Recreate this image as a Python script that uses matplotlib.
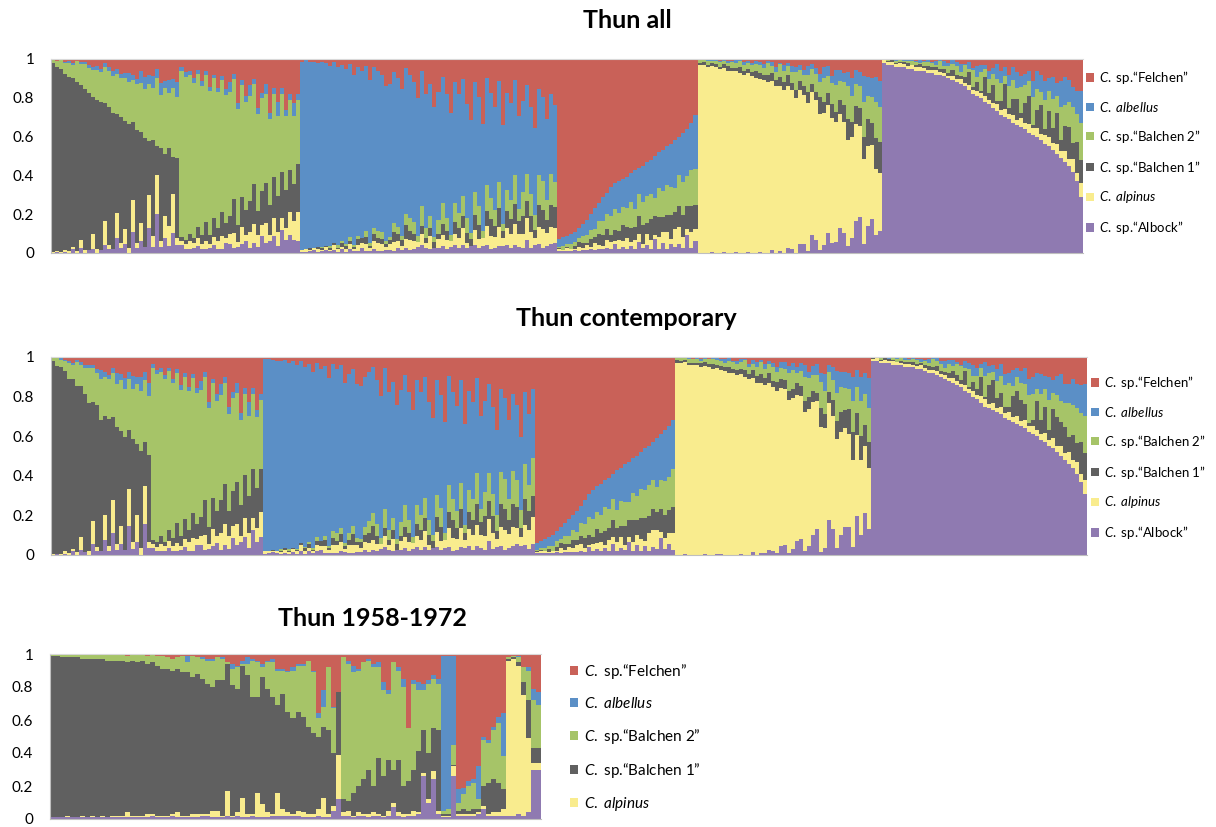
import numpy as np
import matplotlib
matplotlib.use("Agg")
import matplotlib.pyplot as plt
from matplotlib.patches import Patch

plt.rcParams["font.family"] = ["Lato", "DejaVu Sans"]
plt.rcParams["mathtext.fontset"] = "custom"
plt.rcParams["mathtext.it"] = "Lato:italic"
plt.rcParams["mathtext.rm"] = "Lato"

# clusters in stacking order, bottom to top
clusters = ["Albock", "alpinus", "Balchen 1", "Balchen 2", "albellus", "Felchen"]
labels = [r"$\mathit{C.}$ sp.“Albock”", r"$\mathit{C.\ alpinus}$",
          r"$\mathit{C.}$ sp.“Balchen 1”", r"$\mathit{C.}$ sp.“Balchen 2”",
          r"$\mathit{C.\ albellus}$", r"$\mathit{C.}$ sp.“Felchen”"]
colors = ["#8F7AB1", "#F9EC8E", "#606060", "#A6C468", "#5B8FC6", "#C96158"]
yticks = [0, 0.2, 0.4, 0.6, 0.8, 1]
ytick_labels = ["0", "0.2", "0.4", "0.6", "0.8", "1"]

# one token per fish: "membership of the group's own cluster (%)/weights of
# the other five clusters (stacking order) sharing the rest"
all_balchen1 = ("97/01201 95/11502 94/01601 91/11712 90/01811 87/21712 87/01901 80/23811 "
                "83/01911 81/10812 71/14712 77/01812 76/10913 61/26911 71/11912 70/10913 "
                "51/35812 65/11813 56/23913 64/01923 40/46813 58/11914 47/23822 56/10823 "
                "28/34712 49/12923 15/44711 48/11924 32/23913 40/13823 19/24712 41/11823")
all_balchen2 = ("86/21112 84/11113 82/12213 80/11114 79/22313 77/11215 76/12513 74/11216 "
                "72/22514 70/12317 68/13614 66/21316 64/22425 62/13713 60/11318 58/24715 "
                "56/21416 54/13625 52/24814 50/12418 48/32616 46/24825 44/21519 43/33715 "
                "41/12526 40/42815 38/22618 36/34716 35/23627 33/25816")
all_albellus = ("97/11002 97/12001 96/11102 96/21002 95/12103 95/11112 94/22103 93/11114 "
                "93/23102 92/12126 91/21213 90/12217 89/23223 88/11118 87/13324 86/22205 "
                "85/13333 84/11119 83/24434 82/13235 81/13237 80/11119 79/12118 78/14546 "
                "77/23338 76/11219 75/24654 74/13345 72/12236 71/11017 70/23253 69/11127 "
                "68/13236 67/10119 66/12137 65/23365 64/12238 63/11019 62/23356 61/12237 "
                "60/24355 59/11239 58/10119 57/24466 56/12348 55/11019 55/25475 54/13458 "
                "53/12239 52/25576 51/11119 50/24458 50/13349 49/25575 48/12229 47/13459 "
                "46/35466 45/13349 45/11129 44/24577 43/14468 42/12239 41/24578 40/23459")
all_felchen = ("93/21116 92/11025 91/22127 90/11036 89/21238 87/12225 85/21347 83/12136 "
               "80/21458 77/13238 74/22569 71/11347 69/23468 66/12258 64/31479 63/12247 "
               "62/22569 61/13358 59/21478 57/12349 56/32567 55/11458 53/23379 52/12568 "
               "50/31449 48/13579 47/22358 45/14479 44/21569 42/13348 40/24579 38/12469 "
               "36/31458 33/13579 29/22469")
all_alpinus = ("97/03410 97/04311 96/02521 96/14311 96/03421 95/02512 95/15411 94/04322 "
               "94/03612 93/13421 93/05511 92/03432 92/14622 91/03513 90/04421 89/15632 "
               "89/03423 88/04611 87/26532 86/03424 85/15712 84/04533 83/36522 82/24634 "
               "80/03723 79/55633 77/44525 76/15743 74/73622 72/64834 70/16535 68/23632 "
               "66/85743 64/34625 62/22532 59/95744 57/76835 55/13522 52/44755 50/95643 "
               "47/84533 44/25864 41/66544 38/96755 34/35643 30/57865")
all_albock = ("98/51110 97/42210 97/53101 96/41311 96/52211 96/42121 95/33311 95/41421 "
              "94/32312 94/43231 94/32412 93/24321 93/33513 92/42232 92/23611 91/34342 "
              "90/22523 89/35431 88/23632 87/32353 86/24713 84/38242 82/22915 81/35364 "
              "80/21933 78/39423 77/23746 75/28534 73/31962 71/24755 70/39333 69/22846 "
              "67/36753 66/28465 65/32946 64/27645 62/39534 61/21957 60/36764 58/29455 "
              "56/32967 55/38646 53/24865 51/39547 49/23976 47/37685 45/29766 42/34957 "
              "37/28768 29/35877")

cont_balchen1 = ("97/01201 95/10601 94/01511 91/12812 88/01812 86/21713 84/01911 76/25812 "
                 "80/10913 75/01912 60/36912 72/11813 66/10923 50/35813 64/11914 42/46812 "
                 "59/11823 48/23913 57/10924 30/45712 52/11823 36/24913 49/01923 22/45812 "
                 "44/11924")
cont_balchen2 = ("87/21112 85/11113 83/12213 82/11114 80/22313 78/11215 76/12513 74/11216 "
                 "72/22514 70/12317 68/13614 66/21316 64/22425 62/13713 60/11318 58/24715 "
                 "56/21416 53/13625 51/24814 49/12418 47/32616 45/24825 43/21519 41/33715 "
                 "40/12526 38/42815 36/22618 35/34716")
cont_albellus = ("97/12002 97/11001 96/21102 96/11002 95/11113 95/12102 94/11114 94/22103 "
                 "93/12116 92/23102 91/12217 90/21213 89/11118 88/23223 87/22205 86/13324 "
                 "85/11119 84/13333 83/13235 82/24434 81/11119 80/13237 79/14546 78/12118 "
                 "77/11219 76/23338 75/13345 74/24654 73/12236 72/11017 71/23253 70/11127 "
                 "69/13236 68/10119 67/12137 66/23365 65/12238 64/11019 63/23356 62/12237 "
                 "61/24355 60/11239 59/10119 58/24466 57/12348 56/11019 55/25475 54/13458 "
                 "53/12239 52/25576 51/11119 50/24458 49/13349 48/25575 47/12229 46/13459 "
                 "45/35466 44/13349 43/11129 42/24577 41/14468 40/12239 39/24578 38/23459 "
                 "37/11129 36/24577 36/13349 35/25476")
cont_felchen = ("94/21116 93/22127 92/11025 91/21238 90/11036 88/21347 86/12225 84/21458 "
                "82/12136 80/22569 78/13238 75/23468 72/11347 69/31479 67/12258 65/22569 "
                "64/12247 62/21478 61/13358 59/32567 57/12349 56/23379 54/11458 53/31449 "
                "51/12568 50/22358 48/13579 46/21569 45/14479 43/24579 41/13348 39/31458 "
                "37/12469 35/22469 32/13579")
cont_alpinus = ("97/04311 97/03410 97/14311 96/02521 96/02512 96/03421 95/04322 95/15411 "
                "95/03612 94/05511 94/13421 93/14622 93/03432 92/04421 92/03513 91/03423 "
                "91/15632 90/04611 89/03424 88/26532 87/04533 86/15712 85/14634 84/36522 "
                "83/23723 82/14525 80/55633 79/65743 77/14834 76/23622 74/76535 72/85743 "
                "70/13632 69/34625 67/95744 65/72532 63/16835 61/24755 59/93522 57/85643 "
                "55/25864 52/44533 50/96755 47/76544 44/27865 41/95643 38/45754 34/84643 "
                "31/66875")
cont_albock = ("98/42210 98/51110 97/41311 97/53101 97/42121 96/52211 96/41421 96/33311 "
               "95/43231 95/32312 95/24321 94/32412 94/42232 93/33513 92/34342 92/23611 "
               "91/35431 90/22523 89/32353 88/23632 87/35442 86/24713 85/22915 83/38242 "
               "82/21933 80/35364 79/23746 77/39423 75/31962 74/28534 73/39333 72/24755 "
               "71/36753 69/22846 68/32946 67/28465 66/39534 65/27645 64/36764 62/21957 "
               "61/32967 60/29455 58/24865 57/38646 55/23976 54/39547 52/29766 50/37685 "
               "48/28768 46/34957 44/27876 41/35967 37/28777 31/36876")

# Thun 1958-1972, membership in % per fish
old_albock = [1, 1, 1, 1, 1, 1, 1, 1, 1, 1, 1, 1, 1, 1, 1, 1, 1, 1, 1, 1,
              2, 1, 1, 1, 2, 1, 1, 1, 1, 1, 2, 2, 1, 1, 1, 2, 1, 2, 1, 1,
              2, 1, 1, 1, 2, 2, 2, 2, 2, 2, 1, 1, 1, 2, 1, 1, 5, 12, 2, 2,
              1, 2, 2, 1, 2, 2, 1, 2, 7, 2, 1, 2, 2, 3, 26, 10, 24, 3, 1, 1,
              26, 2, 2, 2, 2, 3, 6, 2, 2, 2, 2, 2, 2, 3, 2, 4, 30, 30]
old_alpinus = [0, 0, 0, 1, 0, 0, 1, 0, 1, 0, 1, 0, 1, 1, 1, 3, 1, 1, 1, 2,
               1, 1, 1, 1, 1, 3, 1, 1, 2, 2, 1, 1, 4, 4, 1, 15, 1, 2, 12, 2,
               1, 15, 8, 3, 1, 14, 4, 2, 1, 3, 3, 2, 2, 4, 12, 2, 3, 27, 2, 3,
               1, 2, 1, 2, 2, 1, 1, 3, 3, 2, 2, 1, 3, 1, 2, 2, 5, 2, 1, 1,
               6, 1, 1, 1, 1, 1, 2, 1, 2, 2, 4, 94, 95, 90, 73, 45, 4, 4]
old_balchen1 = [98, 98, 97, 96, 97, 97, 95, 96, 95, 96, 95, 95, 94, 94, 94, 91, 94, 93, 94, 91,
                92, 91, 89, 89, 87, 87, 87, 87, 83, 85, 82, 79, 75, 79, 82, 77, 79, 75, 80, 84,
                71, 58, 77, 75, 71, 53, 70, 61, 58, 60, 58, 53, 49, 44, 43, 51, 32, 38, 8, 6,
                14, 16, 21, 27, 16, 34, 24, 31, 20, 32, 17, 20, 25, 37, 26, 28, 26, 49, 1, 1,
                1, 2, 3, 2, 3, 2, 12, 19, 20, 18, 12, 1, 1, 2, 8, 23, 9, 9]
old_balchen2 = [1, 1, 2, 2, 2, 2, 3, 3, 3, 3, 3, 4, 4, 4, 4, 4, 4, 5, 4, 5,
                5, 6, 8, 7, 7, 7, 10, 6, 13, 10, 12, 14, 16, 14, 13, 1, 10, 13, 1, 7,
                22, 21, 6, 16, 21, 21, 14, 24, 29, 28, 31, 40, 37, 11, 12, 38, 27, 0, 86, 83,
                73, 70, 71, 66, 72, 55, 52, 40, 65, 54, 60, 32, 52, 37, 24, 42, 30, 28, 2, 3,
                12, 5, 9, 15, 16, 6, 28, 24, 30, 36, 20, 1, 1, 3, 9, 18, 29, 26]
old_albellus = [0, 0, 0, 0, 0, 0, 0, 0, 0, 0, 0, 0, 0, 0, 0, 0, 0, 0, 0, 0,
                0, 0, 0, 0, 0, 0, 0, 4, 0, 0, 1, 1, 1, 0, 1, 0, 3, 1, 2, 4,
                1, 1, 2, 1, 2, 1, 1, 1, 2, 1, 1, 0, 1, 3, 10, 0, 1, 0, 0, 2,
                4, 1, 0, 1, 2, 3, 5, 2, 0, 2, 5, 0, 2, 5, 4, 2, 2, 3, 94, 93,
                54, 8, 4, 3, 2, 20, 2, 2, 2, 4, 26, 0, 0, 1, 0, 2, 7, 8]
old_felchen = [0, 0, 0, 0, 0, 0, 0, 0, 0, 0, 0, 0, 0, 0, 0, 1, 0, 0, 0, 1,
               0, 1, 1, 2, 3, 2, 1, 1, 1, 2, 2, 3, 3, 2, 2, 5, 6, 7, 4, 2,
               3, 4, 6, 4, 3, 9, 9, 10, 8, 6, 6, 4, 10, 36, 22, 8, 32, 23, 2, 4,
               7, 9, 5, 3, 6, 5, 17, 22, 5, 8, 15, 45, 16, 17, 18, 16, 13, 15, 1, 1,
               1, 82, 81, 77, 76, 68, 50, 52, 44, 38, 36, 2, 1, 1, 8, 8, 21, 23]


def group_rows(tokens, own):
    rows = []
    others = [k for k in range(6) if k != own]
    for tok in tokens.split():
        q, w = tok.split("/")
        q = int(q) / 100
        w = np.array([int(c) for c in w], dtype=float)
        row = np.zeros(6)
        row[own] = q
        row[others] = (1 - q) * w / w.sum()
        rows.append(row)
    return rows


def build(groups):
    rows = []
    for tokens, own in groups:
        rows += group_rows(tokens, own)
    return np.array(rows)


Q_all = build([(all_balchen1, 2), (all_balchen2, 3), (all_albellus, 4),
               (all_felchen, 5), (all_alpinus, 1), (all_albock, 0)])
Q_cont = build([(cont_balchen1, 2), (cont_balchen2, 3), (cont_albellus, 4),
                (cont_felchen, 5), (cont_alpinus, 1), (cont_albock, 0)])
Q_old = np.array([old_albock, old_alpinus, old_balchen1, old_balchen2,
                  old_albellus, old_felchen], dtype=float).T
Q_old = Q_old / Q_old.sum(axis=1, keepdims=True)

fig = plt.figure(figsize=(12.16, 8.27), dpi=100)
W, H = 1216, 827


def px_axes(x0, y0, x1, y1):
    return fig.add_axes([x0 / W, 1 - y1 / H, (x1 - x0) / W, (y1 - y0) / H])


def draw_panel(ax, Q):
    x = np.arange(len(Q))
    bottom = np.zeros(len(Q))
    for k in range(6):
        ax.bar(x, Q[:, k], width=1.0, bottom=bottom, color=colors[k],
               linewidth=0, antialiased=False)
        bottom += Q[:, k]
    ax.set_xlim(-0.5, len(Q) - 0.5)
    ax.set_ylim(0, 1)
    ax.set_xticks([])
    ax.set_yticks(yticks)
    ax.set_yticklabels(ytick_labels)
    ax.tick_params(axis="y", length=0, pad=12, labelsize=11)
    ax.spines["right"].set_visible(False)
    ax.spines["top"].set_color("#D9D9D9")
    ax.spines["left"].set_color("#BFBFBF")
    ax.spines["bottom"].set_color("#BFBFBF")


def add_legend(ax, order, x, y, size, spacing, box):
    handles = [Patch(facecolor=colors[k], edgecolor="none") for k in order]
    ax.legend(handles, [labels[k] for k in order], loc="upper left",
              bbox_to_anchor=(x / W, 1 - y / H), bbox_transform=fig.transFigure,
              frameon=False, fontsize=size, handlelength=box, handleheight=box,
              handletextpad=0.35, labelspacing=spacing, borderaxespad=0,
              borderpad=0)


ax1 = px_axes(51, 59, 1083, 253)
draw_panel(ax1, Q_all)
add_legend(ax1, [5, 4, 3, 2, 1, 0], 1086, 69, 9.5, 1.05, 0.6)

ax2 = px_axes(51, 357, 1087, 555)
draw_panel(ax2, Q_cont)
add_legend(ax2, [5, 4, 3, 2, 1, 0], 1091, 374, 9.5, 1.05, 0.6)

ax3 = px_axes(50, 654, 541, 819)
draw_panel(ax3, Q_old)
add_legend(ax3, [5, 4, 3, 2, 1], 570, 662, 11, 1.0, 0.55)

fig.text(627 / W, 1 - 20 / H, "Thun all", ha="center", va="center",
         fontsize=18, fontweight="bold")
fig.text(626 / W, 1 - 319 / H, "Thun contemporary", ha="center", va="center",
         fontsize=18, fontweight="bold")
fig.text(372 / W, 1 - 618 / H, "Thun 1958-1972", ha="center", va="center",
         fontsize=18, fontweight="bold")

fig.savefig("out.png", dpi=100)
